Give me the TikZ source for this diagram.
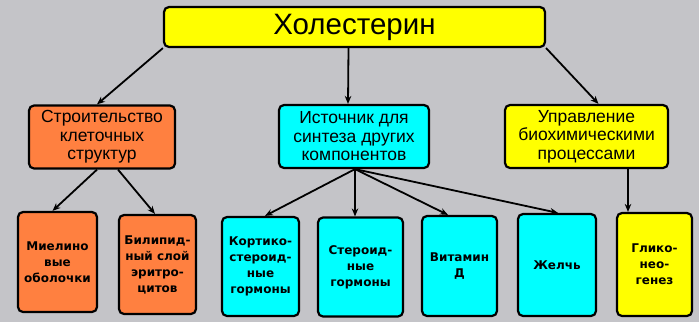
\documentclass[tikz,border=0pt]{standalone}
\usepackage{fontspec}
\setmainfont{Liberation Sans}
\newfontfamily\leaffont{DejaVu Sans}
\usetikzlibrary{arrows.meta,positioning,calc}
\definecolor{bggray}{RGB}{196,196,200}
\definecolor{cellorange}{RGB}{255,128,64}
\definecolor{cellcyan}{RGB}{0,255,255}
\definecolor{cellyellow}{RGB}{255,255,0}

\begin{document}
\begin{tikzpicture}[x=1pt, y=-1pt,
    box/.style={rectangle, draw, line width=2.2pt, rounded corners=5pt, align=center, inner sep=2pt},
    head/.style={box, fill=cellyellow, minimum width=381pt, minimum height=40pt, font=\fontsize{29.5}{31}\selectfont},
    mid/.style={box, minimum height=63pt, font=\fontsize{17.5}{18.5}\selectfont},
    leaf/.style={box, fill=cellcyan, minimum width=77pt, minimum height=99pt, font=\leaffont\bfseries\fontsize{12}{16}\selectfont},
    arr/.style={-{Stealth[length=8pt,width=6.5pt]}, line width=1.8pt}
]
\fill[bggray] (0,0) rectangle (699,322);
\useasboundingbox (0,0) rectangle (699,322);

% top
\node[head] (chol) at (354.5,27) {Холестерин};

% second row
\node[mid, fill=cellorange, minimum width=146pt] (build) at (102,137) {Строительство\\клеточных\\структур};
\node[mid, fill=cellcyan, minimum width=150pt] (source) at (354,136.5) {Источник для\\синтеза других\\компонентов};
\node[mid, fill=cellyellow, minimum width=163pt] (ctrl) at (586.5,136.5) {Управление\\биохимическими\\процессами};

% third row
\node[leaf, fill=cellorange, minimum width=79pt, minimum height=100pt] (myel) at (57.5,262) {Миелино\\вые\\оболочки};
\node[leaf, fill=cellorange] (bilip) at (157.5,264.5) {Билипид-\\ный слой\\эритро-\\цитов};
\node[leaf] (cort) at (260.5,266.5) {Кортико-\\стероид-\\ные\\гормоны};
\node[leaf, minimum width=85pt] (ster) at (360.5,267) {Стероид-\\ные\\гормоны};
\node[leaf, minimum width=75pt, minimum height=100pt] (vit) at (459.5,266) {Витамин\\Д};
\node[leaf, minimum width=78pt, minimum height=102pt] (bile) at (557,265) {Желчь};
\node[leaf, fill=cellyellow, minimum width=75pt, minimum height=103pt] (gluc) at (654.5,264.5) {Глико-\\нео-\\генез};

\draw[arr] (chol.south west) -- ([xshift=-5pt]build.north);
\draw[arr] ([xshift=-6pt]chol.south) -- ([xshift=-6pt]source.north);
\draw[arr] (chol.south east) -- ([xshift=12pt]ctrl.north);

\draw[arr] ([xshift=-5pt]build.south) -- ([xshift=-5pt]myel.north);
\draw[arr] ([xshift=16pt]build.south) -- ([xshift=-2.5pt]bilip.north);

\foreach \leaf/\dx in {cort/4.5, ster/-5.5, vit/-11.5, bile/1}
    \draw[arr] ([xshift=1pt]source.south) -- ([xshift=\dx pt]\leaf.north);

\draw[arr] ([xshift=41.5pt]ctrl.south) -- ([xshift=-26.5pt]gluc.north);
\end{tikzpicture}
\end{document}
